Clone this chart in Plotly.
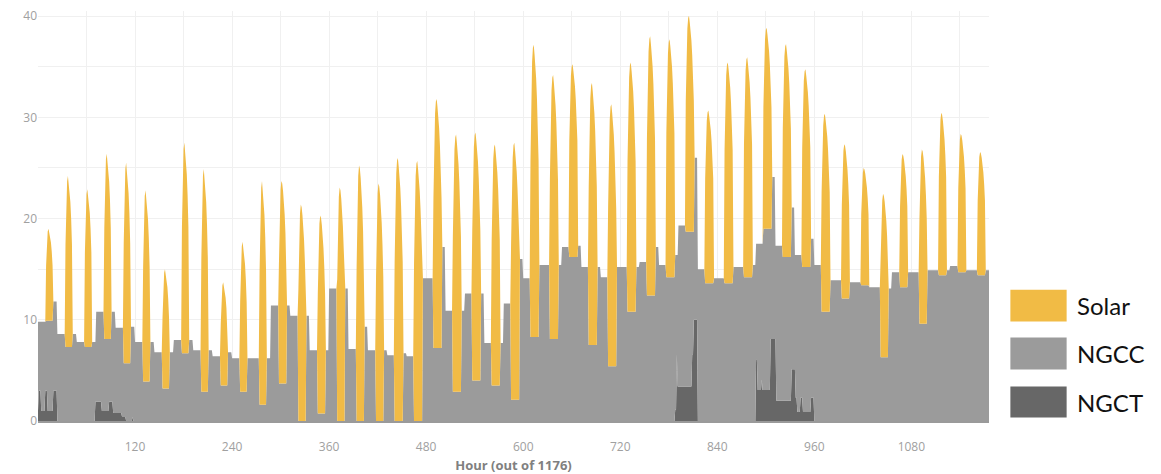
import numpy as np
import plotly.graph_objects as go

# ---------------- data (one entry per day, 49 days) -------------
N_HOURS = 1176
x_ticks = [120, 240, 360, 480, 600, 720, 840, 960, 1080]
y_ticks = [0, 10, 20, 30, 40]

# top of the yellow spike (NGCT + NGCC + Solar) at the daily peak
solar_peak = [19.0, 24.2, 22.9, 26.4, 25.5, 22.8, 15.0, 27.5, 24.9, 13.7,
              17.7, 23.7, 23.9, 21.6, 20.5, 23.3, 25.5, 23.7, 26.2, 25.9,
              32.0, 28.5, 28.7, 27.5, 27.7, 37.4, 34.4, 35.4, 33.6, 31.5,
              35.6, 38.2, 37.9, 40.2, 30.8, 35.6, 36.1, 39.0, 37.4, 34.9,
              30.5, 27.5, 25.1, 22.6, 26.5, 27.0, 30.6, 28.5, 26.7]
# thermal level (NGCT + NGCC) while the sun is up
day_thermal = [9.9, 7.3, 7.3, 8.1, 5.7, 3.9, 3.2, 6.7, 2.9, 3.5,
               2.9, 1.6, 3.7, 0.0, 0.75, 0.0, 0.0, 0.0, 0.0, 0.0,
               7.2, 2.9, 4.0, 3.5, 2.1, 8.3, 8.1, 16.2, 7.5, 5.4,
               10.8, 12.4, 14.2, 18.7, 13.6, 13.6, 14.2, 19.0, 16.2, 15.2,
               10.8, 12.1, 13.4, 6.3, 13.2, 9.6, 14.4, 14.7, 14.4]
# thermal level from midnight to sunrise
morning_thermal = [9.8, 8.6, 7.8, 10.8, 9.2, 7.8, 6.8, 8.0, 7.0, 6.4,
                   6.2, 6.2, 11.4, 10.4, 7.0, 13.1, 7.1, 7.0, 6.5, 6.4,
                   14.1, 10.9, 12.6, 7.7, 11.6, 14.1, 15.4, 17.2, 15.2, 14.2,
                   15.2, 15.7, 15.4, 19.3, 15.0, 14.1, 15.2, 17.5, 17.3, 16.4,
                   15.4, 13.9, 13.7, 13.2, 14.7, 14.7, 14.9, 15.3, 14.9]
# thermal level from sunset to midnight
evening_thermal = [11.8, 8.6, 7.8, 10.8, 9.3, 7.8, 6.8, 8.0, 7.0, 6.8,
                   6.2, 6.2, 11.4, 10.4, 7.0, 13.1, 9.3, 7.0, 6.7, 14.1,
                   17.2, 10.9, 12.6, 7.7, 16.0, 15.4, 15.4, 17.3, 15.2, 15.2,
                   15.2, 17.2, 16.4, 26.0, 14.1, 15.2, 15.4, 24.1, 21.1, 18.0,
                   13.9, 13.7, 13.2, 13.1, 14.7, 14.9, 14.9, 14.9, 14.9]
# first and last solar hour of each day
sun_first = [10, 10, 10, 10, 10, 10, 10, 10, 10, 10,
             10, 10, 10, 10, 10, 10, 10, 10, 9, 9,
             9, 9, 9, 9, 9, 9, 9, 9, 9, 9,
             9, 9, 9, 9, 9, 9, 9, 9, 9, 9,
             9, 10, 10, 10, 10, 10, 10, 10, 10]
sun_last = [18, 18, 18, 18, 18, 18, 18, 18, 18, 18,
            18, 18, 19, 19, 19, 19, 19, 19, 19, 19,
            19, 19, 19, 19, 19, 19, 19, 19, 19, 19,
            19, 19, 19, 19, 19, 19, 19, 19, 19, 19,
            19, 19, 19, 19, 19, 19, 19, 19, 19]
# shape of the solar spike across the daylight window (read from the spikes)
spike_pos = [0.0, 0.125, 0.25, 0.375, 0.5, 0.625, 0.75, 0.875, 1.0]
spike_frac = [0.6, 0.88, 0.97, 1.0, 0.96, 0.92, 0.85, 0.75, 0.6]
# NGCT blocks: (start hour, end hour, MW)
ngct_blocks = [(0, 1, 1.0), (1, 4, 3.0), (4, 9, 1.0), (9, 12, 3.0), (12, 19, 1.0), (19, 24, 3.0),
               (71, 79, 1.9), (79, 88, 1.0), (88, 93, 1.9), (93, 104, 0.8), (104, 109, 0.4),
               (117, 118, 0.4),
               (788, 790, 1.1), (790, 791, 6.6), (791, 809, 3.4), (809, 811, 6.6), (811, 816, 10.0),
               (888, 890, 6.1), (890, 895, 3.05), (895, 896, 4.1), (896, 906, 3.05),
               (906, 913, 8.1), (913, 932, 2.0), (932, 937, 5.1), (937, 939, 2.3),
               (939, 943, 0.9), (943, 946, 2.3), (946, 956, 0.9), (956, 960, 2.3)]

# ---------------- hourly series assembled from the daily readings --------------------------
hours = np.arange(N_HOURS + 1)
thermal = np.zeros(N_HOURS + 1)
solar = np.zeros(N_HOURS + 1)
for d in range(len(solar_peak)):
    f0, f1 = sun_first[d], sun_last[d]
    frac = np.interp(np.linspace(0, 1, f1 - f0 + 1), spike_pos, spike_frac)
    for k in range(24):
        h = d * 24 + k
        if k < f0:
            thermal[h] = morning_thermal[d]
        elif k <= f1:
            thermal[h] = day_thermal[d]
            solar[h] = (solar_peak[d] - day_thermal[d]) * frac[k - f0]
        else:
            thermal[h] = evening_thermal[d]
thermal[N_HOURS] = thermal[N_HOURS - 1]
solar[N_HOURS] = solar[N_HOURS - 1]

ngct = np.zeros(N_HOURS + 1)
for a, b, v in ngct_blocks:
    ngct[a:b] = v
ngcc = np.clip(thermal - ngct, 0, None)

# ---------------- figure -------------------------------------------------------------------
C_SOLAR, C_NGCC, C_NGCT = "#F1BB45", "#9B9B9B", "#676767"

fig = go.Figure()
for name, vals, col in [("NGCT", ngct, C_NGCT), ("NGCC", ngcc, C_NGCC), ("Solar", solar, C_SOLAR)]:
    fig.add_trace(go.Scatter(x=hours, y=vals, name=name, mode="lines", stackgroup="one",
                             line=dict(width=0, color=col), fillcolor=col, showlegend=False))

L, R, T, B = 37.5, 171.7, 11, 52.5
PW, PH = 1161 - L - R, 474 - T - B

def px(xp):
    return (xp - L) / PW

def py(yp):
    return (474 - B - yp) / PH

legend_items = [("Solar", C_SOLAR, 290, 322), ("NGCC", C_NGCC, 338, 370), ("NGCT", C_NGCT, 387, 418)]
shapes, annotations = [], []
for name, col, y0, y1 in legend_items:
    shapes.append(dict(type="rect", xref="paper", yref="paper", x0=px(1010.7), x1=px(1067),
                       y0=py(y1), y1=py(y0), fillcolor=col, line=dict(width=0)))
    annotations.append(dict(text=name, xref="paper", yref="paper", x=px(1075), y=py((y0 + y1) / 2),
                            xanchor="left", yanchor="middle", showarrow=False,
                            font=dict(family="Lato", size=24, color="#111111")))

grid = "#f0f0f0"
fig.update_layout(
    width=1161, height=474,
    margin=dict(l=L, r=R, t=T, b=B, autoexpand=False),
    paper_bgcolor="white", plot_bgcolor="white",
    shapes=shapes, annotations=annotations,
    font=dict(family="Open Sans", size=12, color="#a0a0a0"),
    xaxis=dict(range=[0, N_HOURS], tickvals=x_ticks, ticktext=[str(v) for v in x_ticks],
               automargin=False,
               showgrid=True, gridcolor=grid, gridwidth=1,
               minor=dict(dtick=60, tick0=0, showgrid=True, gridcolor=grid, ticks=""),
               ticks="outside", ticklen=14, tickcolor="rgba(0,0,0,0)",
               tickfont=dict(family="Open Sans", size=12, color="#a0a0a0"),
               showline=True, linecolor="#9a9a9a", linewidth=2, zeroline=False,
               title=dict(text="<b>Hour (out of 1176)</b>", standoff=8,
                          font=dict(family="Open Sans", size=13, color="#808080"))),
    yaxis=dict(range=[0, 40.5], tickvals=y_ticks, showgrid=True, gridcolor=grid, gridwidth=1,
               automargin=False,
               minor=dict(dtick=5, tick0=0, showgrid=True, gridcolor=grid, ticks=""),
               zeroline=False, ticks="",
               tickfont=dict(family="Open Sans", size=12, color="#a0a0a0")),
)

fig.write_html("out.html", config={"displayModeBar": False},
               post_script="document.body.style.margin='0';document.body.style.overflow='hidden';")
